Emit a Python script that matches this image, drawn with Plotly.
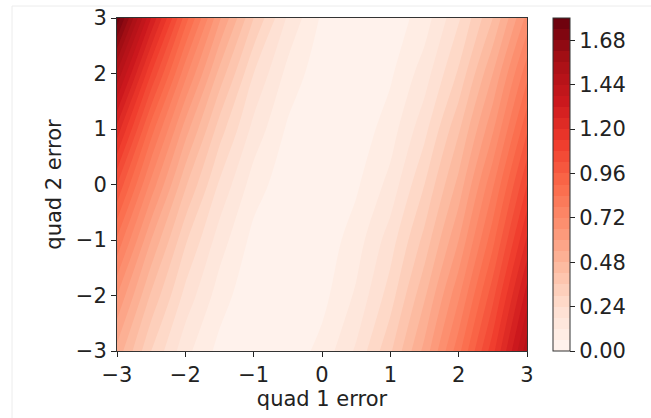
import plotly.graph_objects as go

# grid coordinates
quad1_err = [-3.0, -2.5, -2.0, -1.5, -1.0, -0.5, 0.0, 0.5, 1.0, 1.5, 2.0, 2.5, 3.0]
quad2_err = [-3, -2, -1, 0, 1, 2, 3]

# values (rows: quad2 = -3 ... 3)
row_m3 = [0.52, 0.30, 0.14, 0.04, 0.00, 0.02, 0.08, 0.19, 0.35, 0.56, 0.82, 1.12, 1.48]
row_m2 = [0.66, 0.41, 0.22, 0.09, 0.01, 0.00, 0.04, 0.13, 0.27, 0.47, 0.71, 1.00, 1.35]
row_m1 = [0.83, 0.54, 0.31, 0.15, 0.04, 0.00, 0.02, 0.09, 0.21, 0.38, 0.60, 0.88, 1.21]
row_0 = [1.02, 0.70, 0.43, 0.23, 0.09, 0.02, 0.00, 0.05, 0.14, 0.30, 0.50, 0.77, 1.08]
row_p1 = [1.24, 0.87, 0.57, 0.33, 0.16, 0.05, 0.00, 0.02, 0.09, 0.22, 0.41, 0.65, 0.95]
row_p2 = [1.49, 1.08, 0.74, 0.46, 0.24, 0.10, 0.02, 0.00, 0.05, 0.15, 0.31, 0.54, 0.82]
row_p3 = [1.78, 1.32, 0.93, 0.61, 0.36, 0.17, 0.05, 0.00, 0.02, 0.09, 0.23, 0.42, 0.68]
z_rows = [row_m3, row_m2, row_m1, row_0, row_p1, row_p2, row_p3]

cbar_ticks = [0.00, 0.24, 0.48, 0.72, 0.96, 1.20, 1.44, 1.68]
level_start, level_end, level_step = 0.0, 1.8, 0.06

reds = ['rgb(255,245,240)', 'rgb(254,224,210)', 'rgb(252,187,161)', 'rgb(252,146,114)',
        'rgb(251,106,74)', 'rgb(239,59,44)', 'rgb(203,24,29)', 'rgb(165,15,21)', 'rgb(103,0,13)']
colorscale = [[i / (len(reds) - 1), c] for i, c in enumerate(reds)]

FONT = "DejaVu Sans"
FS = 21
fig = go.Figure()
fig.add_trace(go.Contour(
    x=quad1_err, y=quad2_err, z=z_rows,
    colorscale=colorscale, zmin=level_start, zmax=level_end,
    contours=dict(start=level_start, end=level_end, size=level_step, coloring='fill'),
    line=dict(width=0),
    colorbar=dict(
        x=(553 - 117) / 410, xanchor='left', xpad=0,
        y=0, yanchor='bottom', len=1, lenmode='fraction', ypad=0,
        thickness=17, outlinewidth=1, outlinecolor='#333',
        tickvals=cbar_ticks, ticktext=[f"{v:.2f}" for v in cbar_ticks],
        ticks='outside', ticklen=5, tickcolor='#222',
        tickfont=dict(family=FONT, size=FS, color='#222'),
    ),
))

axis_common = dict(
    showline=True, mirror=True, linecolor='#333', linewidth=1, automargin=False,
    ticks='outside', ticklen=5, tickcolor='#222', showgrid=False, zeroline=False,
    tickfont=dict(family=FONT, size=FS, color='#222'),
    tickvals=[-3, -2, -1, 0, 1, 2, 3], ticktext=['−3', '−2', '−1', '0', '1', '2', '3'],
    range=[-3, 3],
)
fig.update_layout(
    width=651, height=418,
    margin=dict(l=117, r=124, t=18, b=67, pad=0, autoexpand=False),
    paper_bgcolor='white', plot_bgcolor='white',
    xaxis=dict(axis_common, title=dict(text='quad 1 error', standoff=4,
                                       font=dict(family=FONT, size=FS, color='#222'))),
    yaxis=dict(axis_common, title=dict(text='quad 2 error', standoff=8,
                                       font=dict(family=FONT, size=FS, color='#222'))),
    shapes=[
        dict(type='line', xref='paper', yref='paper', x0=(12 - 117) / 410, x1=(651 - 117) / 410,
             y0=(351 - 6) / 333, y1=(351 - 6) / 333, line=dict(color='#ececec', width=1)),
        dict(type='line', xref='paper', yref='paper', x0=(12 - 117) / 410, x1=(12 - 117) / 410,
             y0=(351 - 6) / 333, y1=(351 - 418) / 333, line=dict(color='#ececec', width=1)),
    ],
)
fig.write_html("out.html")
